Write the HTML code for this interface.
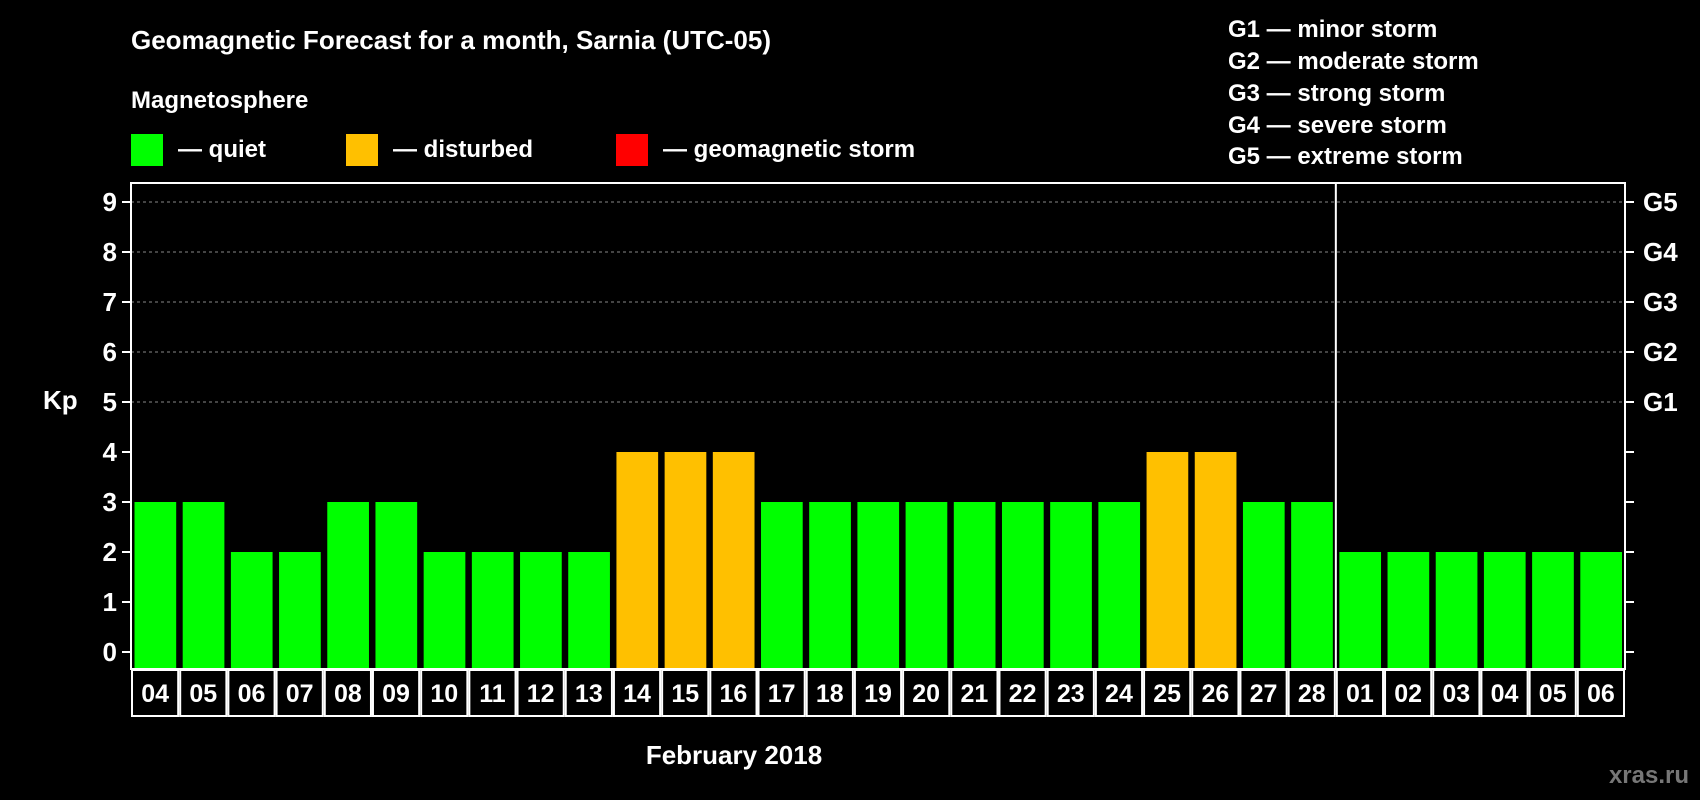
<!DOCTYPE html>
<html><head><meta charset="utf-8"><style>
html,body{margin:0;padding:0;background:#000;}
svg{display:block;font-family:"Liberation Sans",Arial,sans-serif;font-weight:bold;}
</style></head><body>
<svg id="chart" width="1700" height="800" viewBox="0 0 1700 800">
<rect x="0" y="0" width="1700" height="800" fill="#000"/>
<text x="131" y="49" fill="#fff" font-size="26">Geomagnetic Forecast for a month, Sarnia (UTC-05)</text>
<text x="131" y="108" fill="#fff" font-size="24">Magnetosphere</text>
<g><rect x="131" y="134" width="32" height="32" fill="#00ff00"/><text x="178" y="157" fill="#fff" font-size="24">— quiet</text></g>
<g><rect x="346" y="134" width="32" height="32" fill="#ffc000"/><text x="393" y="157" fill="#fff" font-size="24">— disturbed</text></g>
<g><rect x="616" y="134" width="32" height="32" fill="#ff0000"/><text x="663" y="157" fill="#fff" font-size="24">— geomagnetic storm</text></g>
<g fill="#fff" font-size="24">
<text x="1228" y="37">G1 — minor storm</text>
<text x="1228" y="69">G2 — moderate storm</text>
<text x="1228" y="101">G3 — strong storm</text>
<text x="1228" y="133">G4 — severe storm</text>
<text x="1228" y="164">G5 — extreme storm</text>
</g>
<text x="43" y="409" fill="#fff" font-size="26">Kp</text>
<text x="734" y="764" fill="#fff" font-size="26" text-anchor="middle">February 2018</text>
<text x="1689" y="783" fill="#777" font-size="24" text-anchor="end">xras.ru</text>
<g id="plot"></g>
</svg>
<script>
const days = ["04","05","06","07","08","09","10","11","12","13","14","15","16","17","18","19","20","21","22","23","24","25","26","27","28","01","02","03","04","05","06"];
const kpValues = [3,3,2,2,3,3,2,2,2,2,4,4,4,3,3,3,3,3,3,3,3,4,4,3,3,2,2,2,2,2,2];
const yTicks = [0,1,2,3,4,5,6,7,8,9];
const gLabels = ["G1","G2","G3","G4","G5"];
const gLevels = [5,6,7,8,9];
const monthBreak = 25;

const NS="http://www.w3.org/2000/svg";
const L=131,R=1625,T=183,B=669,Y0=652,UNIT=50;
const colW=(R-L)/days.length;
const y=v=>Y0-v*UNIT;
const x=i=>L+i*colW;
const g=document.getElementById('plot');
function mk(tag,a){const e=document.createElementNS(NS,tag);for(const k in a)e.setAttribute(k,a[k]);g.appendChild(e);return e;}
// grid
gLevels.forEach(v=>{
 const e=mk('line',{x1:L,x2:R,y1:y(v),y2:y(v),stroke:'#888','stroke-dasharray':'3,3','stroke-width':1});
 
 
});
// bars
kpValues.forEach((v,i)=>{
 const c=v>=5?'#ff0000':(v>=4?'#ffc000':'#00ff00');
 const e=mk('rect',{x:x(i)+3.5,y:y(v),width:colW-6.5,height:B-y(v),fill:c});
 
 
});
// frame
const fr=mk('rect',{x:L,y:T,width:R-L,height:B-T,fill:'none',stroke:'#fff','stroke-width':2});


const sep=mk('line',{x1:x(monthBreak),x2:x(monthBreak),y1:T,y2:B,stroke:'#fff','stroke-width':2});


// y ticks
yTicks.forEach(v=>{
 const t=mk('line',{x1:L-9,x2:L,y1:y(v),y2:y(v),stroke:'#fff','stroke-width':2});
 
 
 const t2=mk('line',{x1:R,x2:R+9,y1:y(v),y2:y(v),stroke:'#fff','stroke-width':2});
 
 
 const l=mk('text',{x:117,y:y(v)+9,fill:'#fff','font-size':26,'text-anchor':'end'});
 l.textContent=v;
 
 
});
gLabels.forEach((s,i)=>{
 const l=mk('text',{x:R+18,y:y(gLevels[i])+9,fill:'#fff','font-size':26});
 l.textContent=s;
 
 
});
// date boxes
days.forEach((d,i)=>{
 const r=mk('rect',{x:x(i)+1,y:B+1,width:colW-2,height:46,fill:'#000',stroke:'#fff','stroke-width':2});
 
 
 const l=mk('text',{x:x(i)+colW/2,y:B+33,fill:'#fff','font-size':25,'text-anchor':'middle'});
 l.textContent=d;
 
 
});
</script>
</body></html>
